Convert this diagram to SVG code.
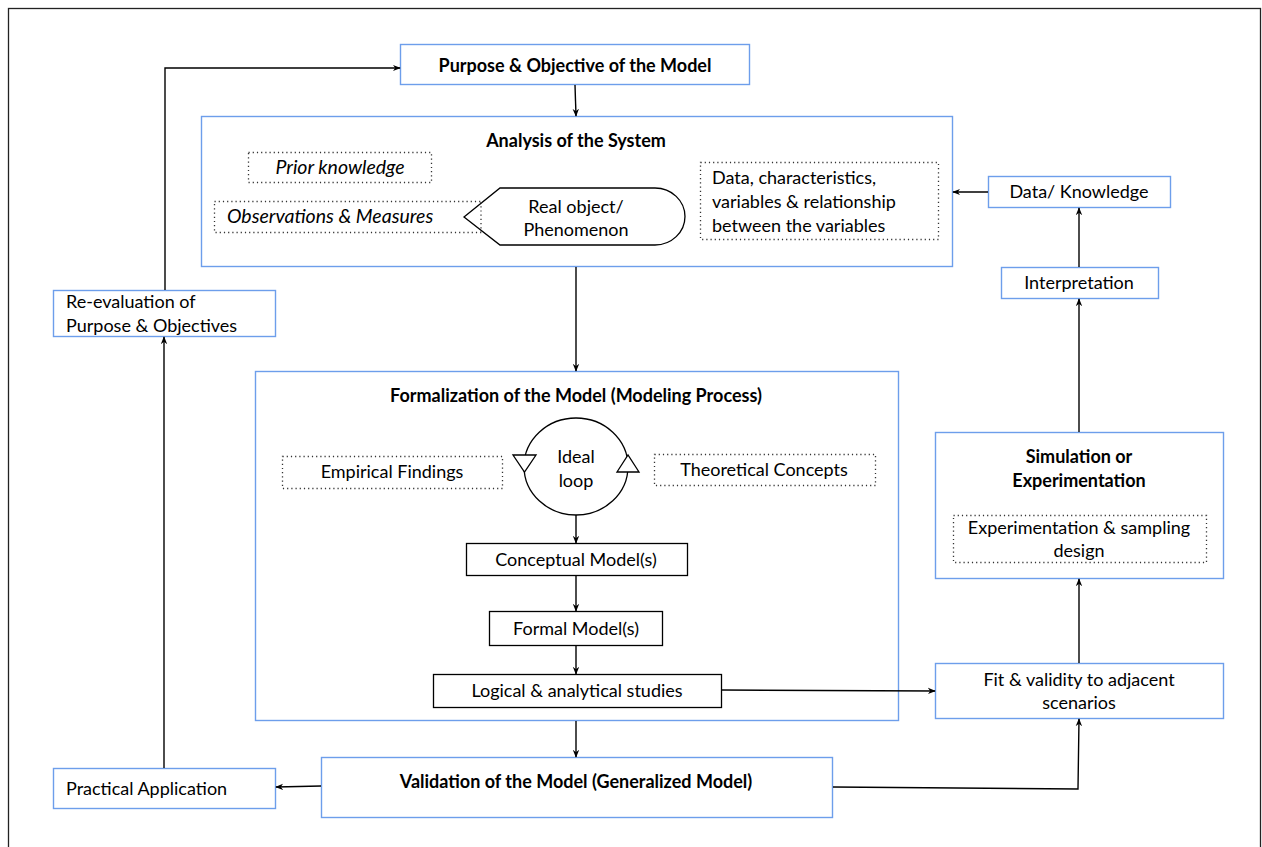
<svg xmlns="http://www.w3.org/2000/svg" width="1262" height="847" viewBox="0 0 1262 847">
<defs>
<style>
.bx{fill:#fff;stroke:#6d9eeb;stroke-width:1.4}
.bk{fill:#fff;stroke:#000;stroke-width:1.3}
.dt{fill:none;stroke:#333;stroke-width:1.3;stroke-dasharray:1.2 3}
.ln{fill:none;stroke:#000;stroke-width:1.4}
text{font-family:Lato,"Open Sans","Liberation Sans",sans-serif;font-size:18px;fill:#000}
.b{font-weight:bold}
.i{font-style:italic;font-size:19.5px}
.c{text-anchor:middle}
</style>
<marker id="ar" viewBox="0 0 10 10" refX="9" refY="5" markerWidth="8" markerHeight="8" markerUnits="userSpaceOnUse" orient="auto">
<path d="M0,1 L10,5 L0,9 L3,5 Z" fill="#000"/>
</marker>
</defs>
<rect x="0" y="0" width="1262" height="847" fill="#fff"/>
<rect x="8.5" y="8.5" width="1252" height="850" fill="none" stroke="#222" stroke-width="1.3"/>

<g id="purpose">
<rect class="bx" x="400.5" y="44.5" width="349" height="40"/>
<text class="b c" x="575" y="72">Purpose &amp; Objective of the Model</text>
</g>

<g id="analysis">
<rect class="bx" x="201.5" y="116.5" width="751" height="150"/>
<text class="b c" x="576" y="147">Analysis of the System</text>
</g>
<g id="prior">
<rect class="dt" x="248.5" y="152.5" width="183" height="30"/>
<text class="i c" x="340" y="174">Prior knowledge</text>
</g>
<g id="observations">
<rect class="dt" x="214.5" y="201.5" width="267" height="31"/>
<text class="i" x="227" y="223">Observations &amp; Measures</text>
</g>
<g id="real-object">
<path d="M464,217 L500,188 L655,188 A30,28.5 0 0 1 655,245 L500,245 Z" fill="#fff" stroke="#000" stroke-width="1.3"/>
<path d="M481,202 L481,232" class="dt"/>
<text class="c" x="576" y="213">Real object/</text>
<text class="c" x="576" y="236">Phenomenon</text>
</g>
<g id="data-chars">
<rect class="dt" x="700.5" y="162.5" width="238" height="77"/>
<text x="712" y="184">Data, characteristics,</text>
<text x="712" y="208">variables &amp; relationship</text>
<text x="712" y="232">between the variables</text>
</g>

<g id="data-knowledge">
<rect class="bx" x="988.5" y="176.5" width="182" height="31"/>
<text class="c" x="1079" y="198">Data/ Knowledge</text>
</g>
<g id="interpretation">
<rect class="bx" x="1001.5" y="267.5" width="157" height="31"/>
<text class="c" x="1079" y="289">Interpretation</text>
</g>
<g id="simulation">
<rect class="bx" x="935.5" y="432.5" width="288" height="146"/>
<text class="b c" x="1079" y="463">Simulation or</text>
<text class="b c" x="1079" y="487">Experimentation</text>
<rect class="dt" x="953.5" y="515.5" width="253" height="47"/>
<text class="c" x="1079" y="534">Experimentation &amp; sampling</text>
<text class="c" x="1079" y="557">design</text>
</g>
<g id="fit">
<rect class="bx" x="935.5" y="663.5" width="288" height="55"/>
<text class="c" x="1079" y="686">Fit &amp; validity to adjacent</text>
<text class="c" x="1079" y="709">scenarios</text>
</g>

<g id="formalization">
<rect class="bx" x="255.5" y="371.5" width="643" height="349"/>
<text class="b c" x="576" y="402">Formalization of the Model (Modeling Process)</text>
</g>
<g id="empirical">
<rect class="dt" x="282.5" y="456.5" width="220" height="32"/>
<text class="c" x="392" y="478">Empirical Findings</text>
</g>
<g id="theoretical">
<rect class="dt" x="654.5" y="454.5" width="221" height="31"/>
<text class="c" x="764" y="476">Theoretical Concepts</text>
</g>
<g id="ideal-loop">
<ellipse cx="576" cy="466.5" rx="52" ry="48.5" fill="#fff" stroke="#000" stroke-width="1.3"/>
<path d="M513,455 L536,455 L524.5,472 Z" fill="#fff" stroke="#000" stroke-width="1.3"/>
<path d="M617,472 L639,472 L628,455 Z" fill="#fff" stroke="#000" stroke-width="1.3"/>
<text class="c" x="576" y="463">Ideal</text>
<text class="c" x="576" y="487">loop</text>
</g>
<g id="conceptual">
<rect class="bk" x="466.5" y="543.5" width="221" height="32"/>
<text class="c" x="576" y="566">Conceptual Model(s)</text>
</g>
<g id="formal">
<rect class="bk" x="489.5" y="611.5" width="173" height="34"/>
<text class="c" x="576" y="635">Formal Model(s)</text>
</g>
<g id="logical">
<rect class="bk" x="433.5" y="674.5" width="288" height="33"/>
<text class="c" x="577" y="697">Logical &amp; analytical studies</text>
</g>

<g id="validation">
<rect class="bx" x="321.5" y="757.5" width="511" height="60"/>
<text class="b c" x="576" y="788">Validation of the Model (Generalized Model)</text>
</g>
<g id="practical">
<rect class="bx" x="53.5" y="768.5" width="222" height="40"/>
<text x="66" y="795">Practical Application</text>
</g>
<g id="reevaluation">
<rect class="bx" x="53.5" y="290.5" width="222" height="46"/>
<text x="66" y="308">Re-evaluation of</text>
<text x="66" y="332">Purpose &amp; Objectives</text>
</g>

<g id="connectors">
<line class="ln" x1="575" y1="85" x2="576" y2="116" marker-end="url(#ar)"/>
<line class="ln" x1="576" y1="267" x2="576" y2="371" marker-end="url(#ar)"/>
<line class="ln" x1="576" y1="515" x2="576" y2="543" marker-end="url(#ar)"/>
<line class="ln" x1="576" y1="576" x2="576" y2="611" marker-end="url(#ar)"/>
<line class="ln" x1="576" y1="646" x2="576" y2="674" marker-end="url(#ar)"/>
<line class="ln" x1="576" y1="721" x2="576" y2="757" marker-end="url(#ar)"/>
<line class="ln" x1="722" y1="690" x2="935" y2="691" marker-end="url(#ar)"/>
<polyline class="ln" points="833,787 1078,789 1079,719" marker-end="url(#ar)"/>
<line class="ln" x1="1079" y1="663" x2="1079" y2="579" marker-end="url(#ar)"/>
<line class="ln" x1="1079" y1="432" x2="1079" y2="299" marker-end="url(#ar)"/>
<line class="ln" x1="1079" y1="267" x2="1079" y2="208" marker-end="url(#ar)"/>
<line class="ln" x1="988" y1="192" x2="953" y2="192" marker-end="url(#ar)"/>
<line class="ln" x1="321" y1="786" x2="276" y2="787" marker-end="url(#ar)"/>
<line class="ln" x1="164" y1="768" x2="164" y2="337" marker-end="url(#ar)"/>
<polyline class="ln" points="165,290 165,68 400,68" marker-end="url(#ar)"/>
</g>
</svg>
